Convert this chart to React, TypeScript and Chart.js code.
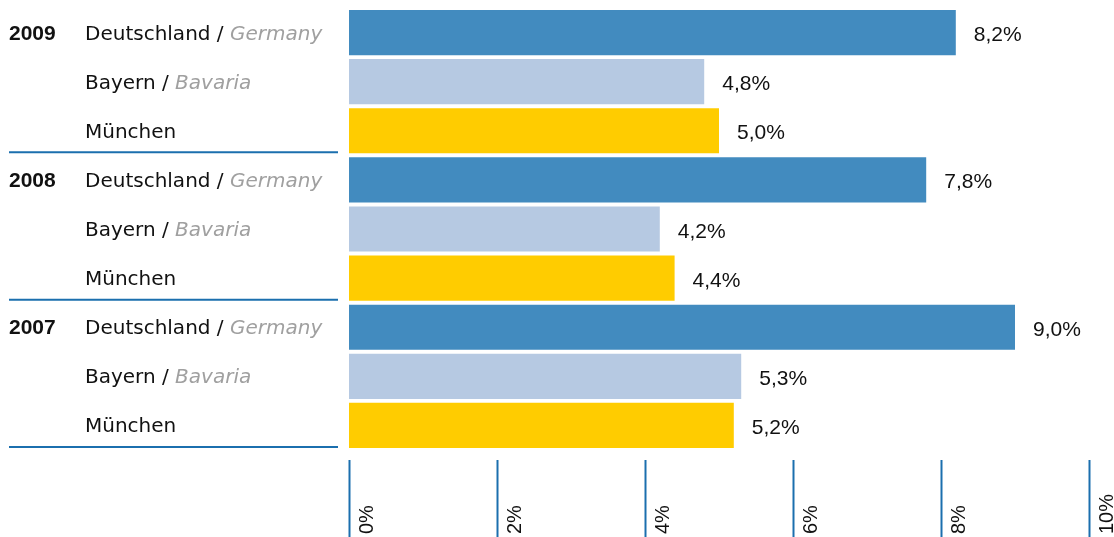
import React, { useEffect, useRef } from "react";
import { Chart, registerables } from "chart.js";

Chart.register(...registerables);

const years = ["2009", "2008", "2007"];
const regionNames = ["Deutschland", "Bayern", "München"];
const regionEnglish = ["Germany", "Bavaria", ""];
const regionColors = ["#428bbf", "#b6c9e2", "#ffcc00"];
const germanyValues = [8.2, 7.8, 9.0];
const bavariaValues = [4.8, 4.2, 5.3];
const munichValues = [5.0, 4.4, 5.2];
const tickValues = [0, 2, 4, 6, 8, 10];
const tickLabels = ["0%", "2%", "4%", "6%", "8%", "10%"];

const FONT = '"DejaVu Sans", "Liberation Sans", Arial, sans-serif';
const FONT_NUM = '"Liberation Sans", Arial, Helvetica, sans-serif';
const LINE_BLUE = "#1b6fae";

const labels: string[] = [];
const values: number[] = [];
const colors: string[] = [];
years.forEach((yr, yi) => {
  const vals = [germanyValues[yi], bavariaValues[yi], munichValues[yi]];
  regionNames.forEach((r, ri) => {
    labels.push(yr + " " + r);
    values.push(vals[ri]);
    colors.push(regionColors[ri]);
  });
});

const decorPlugin = {
  id: "decor",
  afterDraw(chart: any) {
    const ctx = chart.ctx;
    const xs = chart.scales.x;
    const ys = chart.scales.y;
    const area = chart.chartArea;
    ctx.save();
    const n = labels.length;
    const step = (area.bottom - area.top) / n;
    for (let i = 0; i < n; i++) {
      const yc = ys.getPixelForValue(i);
      const yi = Math.floor(i / 3);
      const ri = i % 3;
      ctx.textAlign = "left";
      ctx.textBaseline = "alphabetic";
      if (ri === 0) {
        ctx.font = "bold 21px " + FONT_NUM;
        ctx.fillStyle = "#111";
        ctx.fillText(years[yi], 9, yc + 7);
      }
      ctx.font = "20px " + FONT;
      ctx.fillStyle = "#111";
      let txt = regionNames[ri];
      if (regionEnglish[ri]) txt += " / ";
      ctx.fillText(txt, 85, yc + 7);
      if (regionEnglish[ri]) {
        const w = ctx.measureText(txt).width;
        ctx.font = "italic 20px " + FONT;
        ctx.fillStyle = "#a0a0a0";
        ctx.fillText(regionEnglish[ri], 85 + w, yc + 7);
      }
      const v = values[i];
      ctx.font = "21px " + FONT_NUM;
      ctx.fillStyle = "#111";
      ctx.fillText(v.toFixed(1).replace(".", ",") + "%", xs.getPixelForValue(v) + 18, yc + 8.5);
      if (ri === 2) {
        const ly = yc + step / 2 - 3;
        ctx.strokeStyle = LINE_BLUE;
        ctx.lineWidth = 2;
        ctx.beginPath();
        ctx.moveTo(9, ly);
        ctx.lineTo(338, ly);
        ctx.stroke();
      }
    }
    tickValues.forEach((t, k) => {
      const px = Math.round(xs.getPixelForValue(t)) + 0.5;
      ctx.strokeStyle = LINE_BLUE;
      ctx.lineWidth = 2;
      ctx.beginPath();
      ctx.moveTo(px, 460);
      ctx.lineTo(px, 537);
      ctx.stroke();
      ctx.save();
      ctx.translate(px + 23, 534);
      ctx.rotate(-Math.PI / 2);
      ctx.font = "20px " + FONT_NUM;
      ctx.fillStyle = "#111";
      ctx.textAlign = "left";
      ctx.textBaseline = "alphabetic";
      ctx.fillText(tickLabels[k], 0, 0);
      ctx.restore();
    });
    ctx.restore();
  },
};

export default function App() {
  const ref = useRef<HTMLCanvasElement | null>(null);
  useEffect(() => {
    if (!ref.current) return;
    const chart = new Chart(ref.current, {
      type: "bar",
      data: {
        labels,
        datasets: [
          {
            data: values,
            backgroundColor: colors,
            borderWidth: 0,
            barPercentage: 0.92,
            categoryPercentage: 1,
          },
        ],
      },
      options: {
        indexAxis: "y",
        responsive: false,
        animation: false,
        devicePixelRatio: 1,
        layout: { padding: { left: 349, right: 25, top: 8, bottom: 87 } },
        plugins: { legend: { display: false }, tooltip: { enabled: false } },
        scales: {
          x: { min: 0, max: 10, display: false },
          y: { display: false },
        },
      },
      plugins: [decorPlugin],
    });
    return () => chart.destroy();
  }, []);
  return (
    <div style={{ position: "fixed", left: 0, top: 0, width: 1114, height: 537, background: "#fff" }}>
      <canvas ref={ref} width={1114} height={537} />
    </div>
  );
}
